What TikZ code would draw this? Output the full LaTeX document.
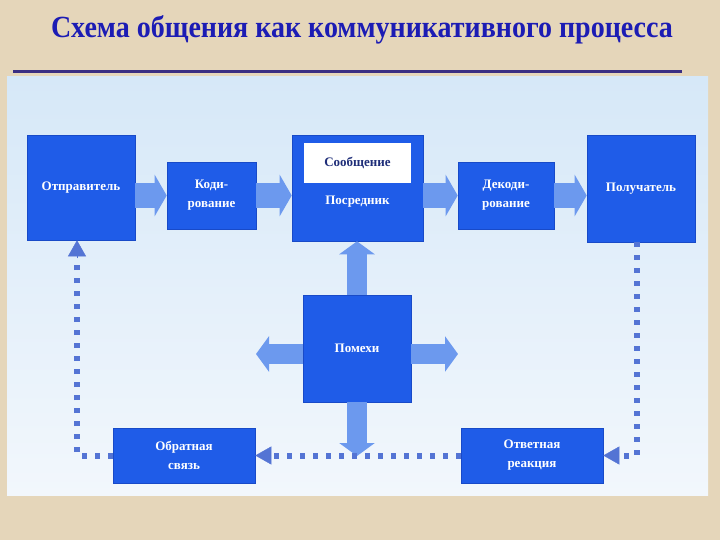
\documentclass[tikz,border=0pt]{standalone}
\usepackage{fontspec}
\setmainfont{Liberation Serif}
\usetikzlibrary{arrows.meta,calc}
\definecolor{bgbeige}{RGB}{229,214,186}
\definecolor{paneltop}{RGB}{214,232,248}
\definecolor{panelbot}{RGB}{242,247,252}
\definecolor{boxblue}{RGB}{31,92,232}
\definecolor{boxedge}{RGB}{24,74,200}
\definecolor{arrowblue}{RGB}{108,153,238}
\definecolor{dotblue}{RGB}{84,116,212}
\definecolor{titleblue}{RGB}{28,28,180}
\definecolor{ruleblue}{RGB}{58,46,130}
\definecolor{msgtext}{RGB}{30,45,120}
\tikzset{
  bluebox/.style={fill=boxblue, draw=boxedge, line width=0.6pt, inner sep=0pt,
    text=white, font=\fontsize{13}{19}\selectfont\bfseries, align=center},
  whitebox/.style={fill=white, draw=none, inner sep=0pt,
    text=msgtext, font=\fontsize{13}{19}\selectfont\bfseries},
  boxlabel/.style={text=white, font=\fontsize{13}{19}\selectfont\bfseries, inner sep=0pt},
  bigarrow/.style={arrowblue, line width=25pt, -{Triangle[length=12pt,width=41pt]}},
  noisearrow/.style={arrowblue, line width=20pt, -{Triangle[length=13pt,width=35pt]}},
  dotline/.style={dotblue, line width=6pt, dash pattern=on 5pt off 8pt},
  dottip/.style={-{Triangle[length=16pt,width=18pt]}}
}
\begin{document}
\begin{tikzpicture}[x=1pt,y=-1pt]
\useasboundingbox (0,0) rectangle (720,540);
% background
\fill[bgbeige] (0,0) rectangle (720,540);
% title
\node[text=titleblue, anchor=base, inner sep=0pt] (title) at (362,38)
  {\resizebox{622pt}{22pt}{\fontsize{32}{32}\selectfont\bfseries Схема общения как коммуникативного процесса}};
\draw[ruleblue, line width=3pt] (13,72) -- (682,72);
% panel
\shade[top color=paneltop, bottom color=panelbot] (7,77) rectangle (708,495);
% boxes
\node[bluebox, minimum width=108pt, minimum height=105pt] (otpr) at (81,187.5) {Отправитель};
\node[bluebox, minimum width=89pt, minimum height=67pt] (kod) at (211.5,195.5) {Коди-\\рование};
\node[bluebox, minimum width=131pt, minimum height=106pt] (posr) at (357.5,188) {};
\node[whitebox, minimum width=107pt, minimum height=40pt] (msg) at (357.5,163) {Сообщение};
\node[boxlabel] (posrlbl) at (357.5,202) {Посредник};
\node[bluebox, minimum width=96pt, minimum height=67pt] (dek) at (506,195.5) {Декоди-\\рование};
\node[bluebox, minimum width=108pt, minimum height=107pt] (pol) at (641,188.5) {Получатель};
\node[bluebox, minimum width=108pt, minimum height=107pt] (pom) at (357,348.5) {Помехи};
\node[bluebox, minimum width=142pt, minimum height=55pt] (obr) at (184,455.5) {Обратная\\связь};
\node[bluebox, minimum width=142pt, minimum height=55pt] (otv) at (532,455.5) {Ответная\\реакция};
% main flow arrows
\draw[bigarrow] (otpr.east |- kod.west) -- (kod.west);
\draw[bigarrow] (kod.east) -- (posr.west |- kod.east);
\draw[bigarrow] (posr.east |- dek.west) -- (dek.west);
\draw[bigarrow] (dek.east) -- (pol.west |- dek.east);
% noise arrows
\coordinate (nleft) at (256,354);
\coordinate (nright) at (458,354);
\coordinate (ndown) at (357,456);
\draw[noisearrow] (pom.north) -- (posr.south -| pom.north);
\draw[noisearrow] (pom.west |- nleft) -- (nleft);
\draw[noisearrow] (pom.east |- nright) -- (nright);
\draw[noisearrow] (pom.south) -- (ndown);
% feedback dotted lines
\draw[dotline] ([xshift=-4pt]pol.south) |- ([xshift=12pt]otv.east);
\draw[dotblue, dottip] ([xshift=14pt]otv.east) -- (otv.east);
\draw[dotline] (otv.west) -- ([xshift=12pt]obr.east);
\draw[dotblue, dottip] ([xshift=14pt]obr.east) -- (obr.east);
\draw[dotline] (obr.west) -| ([xshift=-4pt,yshift=-20pt]otpr.south);
\draw[dotblue, dottip] ([xshift=-4pt,yshift=-18pt]otpr.south) -- ([xshift=-4pt]otpr.south);
\end{tikzpicture}
\end{document}
